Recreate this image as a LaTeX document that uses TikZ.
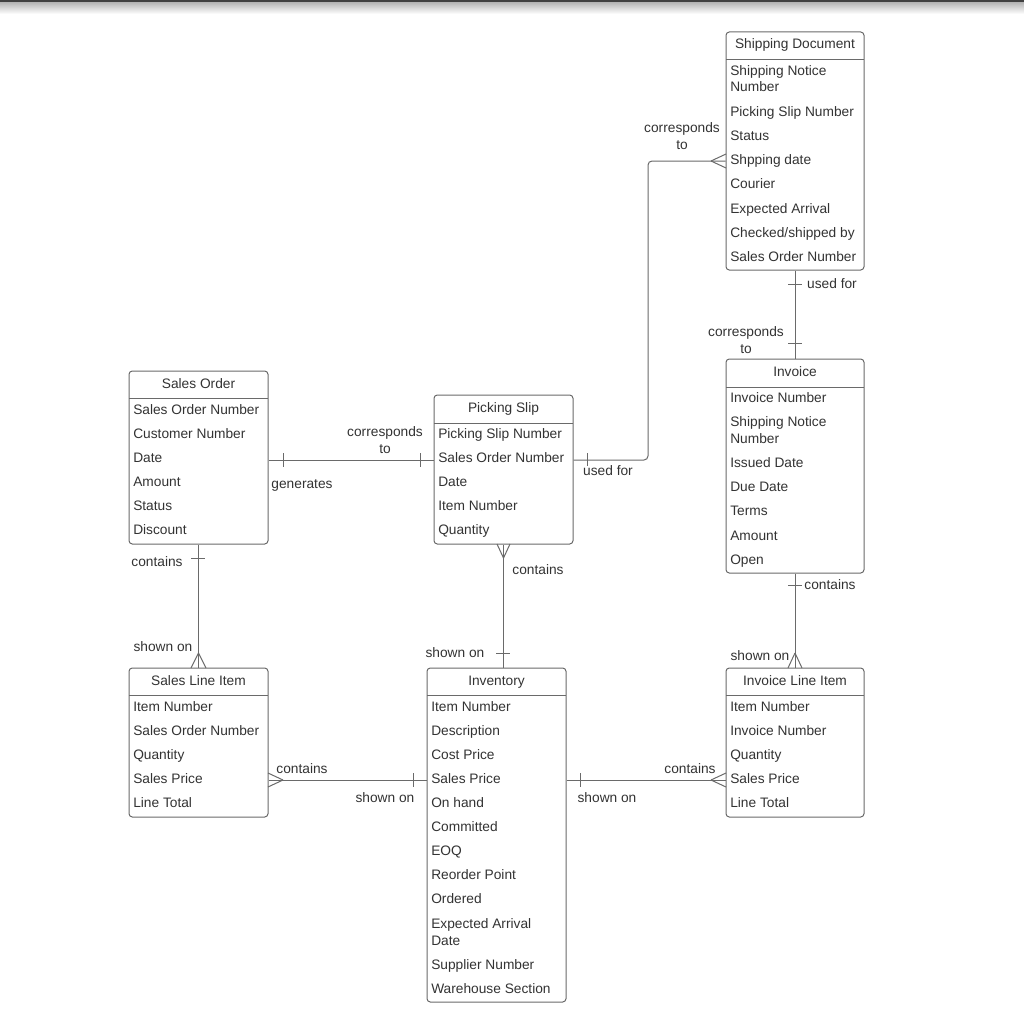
\documentclass[tikz,border=0pt]{standalone}
\usepackage{fontspec}
\setmainfont{Liberation Sans}
\usetikzlibrary{fit}
\definecolor{bx}{HTML}{6A6A6A}
\definecolor{ln}{HTML}{6A6A6A}
\definecolor{tx}{HTML}{333333}
\newcommand{\fsz}{\fontsize{10.3}{12.75}\selectfont}
\begin{document}
\begin{tikzpicture}[x=0.75pt,y=-0.75pt,
  entity/.style={draw=bx, line width=0.75pt, rounded corners=2.5pt, inner sep=0pt, fit={#1}},
  hdr/.style={draw=bx, line width=0.75pt},
  ttl/.style={anchor=base, inner sep=0pt, text=tx, font=\fsz},
  attr/.style={anchor=base west, inner sep=0pt, text=tx, font=\fsz},
  lbl/.style={inner sep=0pt, text=tx, font=\fsz, align=center},
  conn/.style={draw=ln, line width=0.75pt},
  tickmk/.style={draw=ln, line width=0.75pt}]
\useasboundingbox (0,0) rectangle (1024,1024);
\fill[white] (0,0) rectangle (1024,1024);
\shade[top color=black!30, bottom color=white] (0,2) rectangle (1024,14);
\fill[black!75] (0,0) rectangle (1024,2.5);

% ---------- Shipping Document ----------
\node[entity={(726,32) (864,270)}] (sd) {};
\draw[hdr] (726,60) -- (864,60);
\node[ttl] (sd-t) at (795,49) {Shipping Document};
\node[attr] (sd-1a) at (730,75) {Shipping Notice};
\node[attr] (sd-1b) at (730,92) {Number};
\node[attr] (sd-2) at (730,116) {Picking Slip Number};
\node[attr] (sd-3) at (730,140) {Status};
\node[attr] (sd-4) at (730,164) {Shpping date};
\node[attr] (sd-5) at (730,188) {Courier};
\node[attr] (sd-6) at (730,213) {Expected Arrival};
\node[attr] (sd-7) at (730,237) {Checked/shipped by};
\node[attr] (sd-8) at (730,261) {Sales Order Number};

% ---------- Sales Order ----------
\node[entity={(129,371) (268,544)}] (so) {};
\draw[hdr] (129,398) -- (268,398);
\node[ttl] (so-t) at (198.5,388) {Sales Order};
\node[attr] (so-1) at (133,414) {Sales Order Number};
\node[attr] (so-2) at (133,438) {Customer Number};
\node[attr] (so-3) at (133,462) {Date};
\node[attr] (so-4) at (133,486) {Amount};
\node[attr] (so-5) at (133,510) {Status};
\node[attr] (so-6) at (133,534) {Discount};

% ---------- Picking Slip ----------
\node[entity={(434,395) (573,544)}] (ps) {};
\draw[hdr] (434,423) -- (573,423);
\node[ttl] (ps-t) at (503.5,412) {Picking Slip};
\node[attr] (ps-1) at (438,438) {Picking Slip Number};
\node[attr] (ps-2) at (438,462) {Sales Order Number};
\node[attr] (ps-3) at (438,486) {Date};
\node[attr] (ps-4) at (438,510) {Item Number};
\node[attr] (ps-5) at (438,534) {Quantity};

% ---------- Invoice ----------
\node[entity={(726,359) (864,573)}] (inv) {};
\draw[hdr] (726,387) -- (864,387);
\node[ttl] (inv-t) at (795,376) {Invoice};
\node[attr] (inv-1) at (730,402) {Invoice Number};
\node[attr] (inv-2a) at (730,426) {Shipping Notice};
\node[attr] (inv-2b) at (730,443) {Number};
\node[attr] (inv-3) at (730,467) {Issued Date};
\node[attr] (inv-4) at (730,491) {Due Date};
\node[attr] (inv-5) at (730,515) {Terms};
\node[attr] (inv-6) at (730,540) {Amount};
\node[attr] (inv-7) at (730,564) {Open};

% ---------- Sales Line Item ----------
\node[entity={(129,668) (268,817)}] (sli) {};
\draw[hdr] (129,695) -- (268,695);
\node[ttl] (sli-t) at (198.5,685) {Sales Line Item};
\node[attr] (sli-1) at (133,711) {Item Number};
\node[attr] (sli-2) at (133,735) {Sales Order Number};
\node[attr] (sli-3) at (133,759) {Quantity};
\node[attr] (sli-4) at (133,783) {Sales Price};
\node[attr] (sli-5) at (133,807) {Line Total};

% ---------- Inventory ----------
\node[entity={(427,668) (566,1002)}] (in) {};
\draw[hdr] (427,695) -- (566,695);
\node[ttl] (in-t) at (496.5,685) {Inventory};
\node[attr] (in-1) at (431,711) {Item Number};
\node[attr] (in-2) at (431,735) {Description};
\node[attr] (in-3) at (431,759) {Cost Price};
\node[attr] (in-4) at (431,783) {Sales Price};
\node[attr] (in-5) at (431,807) {On hand};
\node[attr] (in-6) at (431,831) {Committed};
\node[attr] (in-7) at (431,855) {EOQ};
\node[attr] (in-8) at (431,879) {Reorder Point};
\node[attr] (in-9) at (431,903) {Ordered};
\node[attr] (in-10a) at (431,928) {Expected Arrival};
\node[attr] (in-10b) at (431,945) {Date};
\node[attr] (in-11) at (431,969) {Supplier Number};
\node[attr] (in-12) at (431,993) {Warehouse Section};

% ---------- Invoice Line Item ----------
\node[entity={(726,668) (864,817)}] (ili) {};
\draw[hdr] (726,695) -- (864,695);
\node[ttl] (ili-t) at (795,685) {Invoice Line Item};
\node[attr] (ili-1) at (730,711) {Item Number};
\node[attr] (ili-2) at (730,735) {Invoice Number};
\node[attr] (ili-3) at (730,759) {Quantity};
\node[attr] (ili-4) at (730,783) {Sales Price};
\node[attr] (ili-5) at (730,807) {Line Total};

% ---------- helper coordinates ----------
\coordinate (c460) at (0,460);
\coordinate (c780) at (0,780);
\coordinate (cvert) at (648,161);

% ---------- connectors ----------
% Sales Order -- Picking Slip
\draw[conn] (so.east |- c460) -- (ps.west |- c460);
\draw[tickmk] (283,453) -- (283,467);
\draw[tickmk] (420,453) -- (420,467);
\node[lbl] (l-gen) at (302,485) {generates};
\node[lbl] (l-cor1) at (385,440.5) {corresponds\\to};

% Picking Slip -- Shipping Document
\draw[conn, rounded corners=3pt] (ps.east |- c460) -| (cvert) -- (sd.west |- cvert);
\draw[tickmk] (587,453) -- (587,466);
\draw[tickmk] (711,161) -- (726,154);
\draw[tickmk] (711,161) -- (726,168);
\node[lbl] (l-use1) at (608,471) {used for};
\node[lbl] (l-cor2) at (682,136) {corresponds\\to};

% Shipping Document -- Invoice
\draw[conn] (sd.south) -- (inv.north);
\draw[tickmk] (788,284) -- (802,284);
\draw[tickmk] (788,343) -- (802,343);
\node[lbl] (l-use2) at (832,284) {used for};
\node[lbl] (l-cor3) at (746,340.5) {corresponds\\to};

% Sales Order -- Sales Line Item
\draw[conn] (so.south) -- (sli.north);
\draw[tickmk] (191,558) -- (205,558);
\draw[tickmk] (198.5,653) -- (191,668);
\draw[tickmk] (198.5,653) -- (206,668);
\node[lbl] (l-con1) at (157,562) {contains};
\node[lbl] (l-sho1) at (163,647) {shown on};

% Picking Slip -- Inventory
\draw[conn] (ps.south) -- (ps.south |- in.north);
\draw[tickmk] (503.5,558) -- (497,544);
\draw[tickmk] (503.5,558) -- (510,544);
\draw[tickmk] (496,653) -- (510,653);
\node[lbl] (l-con2) at (538,570) {contains};
\node[lbl] (l-sho2) at (455,653) {shown on};

% Invoice -- Invoice Line Item
\draw[conn] (inv.south) -- (ili.north);
\draw[tickmk] (788,585) -- (802,585);
\draw[tickmk] (795,653) -- (788,668);
\draw[tickmk] (795,653) -- (802,668);
\node[lbl] (l-con3) at (830,585) {contains};
\node[lbl] (l-sho3) at (760,656) {shown on};

% Sales Line Item -- Inventory
\draw[conn] (sli.east |- c780) -- (in.west |- c780);
\draw[tickmk] (283,780) -- (268,773);
\draw[tickmk] (283,780) -- (268,787);
\draw[tickmk] (413,773) -- (413,787);
\node[lbl] (l-con4) at (302,769) {contains};
\node[lbl] (l-sho4) at (385,798) {shown on};

% Inventory -- Invoice Line Item
\draw[conn] (in.east |- c780) -- (ili.west |- c780);
\draw[tickmk] (580,773) -- (580,787);
\draw[tickmk] (711,780) -- (726,773);
\draw[tickmk] (711,780) -- (726,787);
\node[lbl] (l-sho5) at (607,798) {shown on};
\node[lbl] (l-con5) at (690,769) {contains};
\end{tikzpicture}
\end{document}
